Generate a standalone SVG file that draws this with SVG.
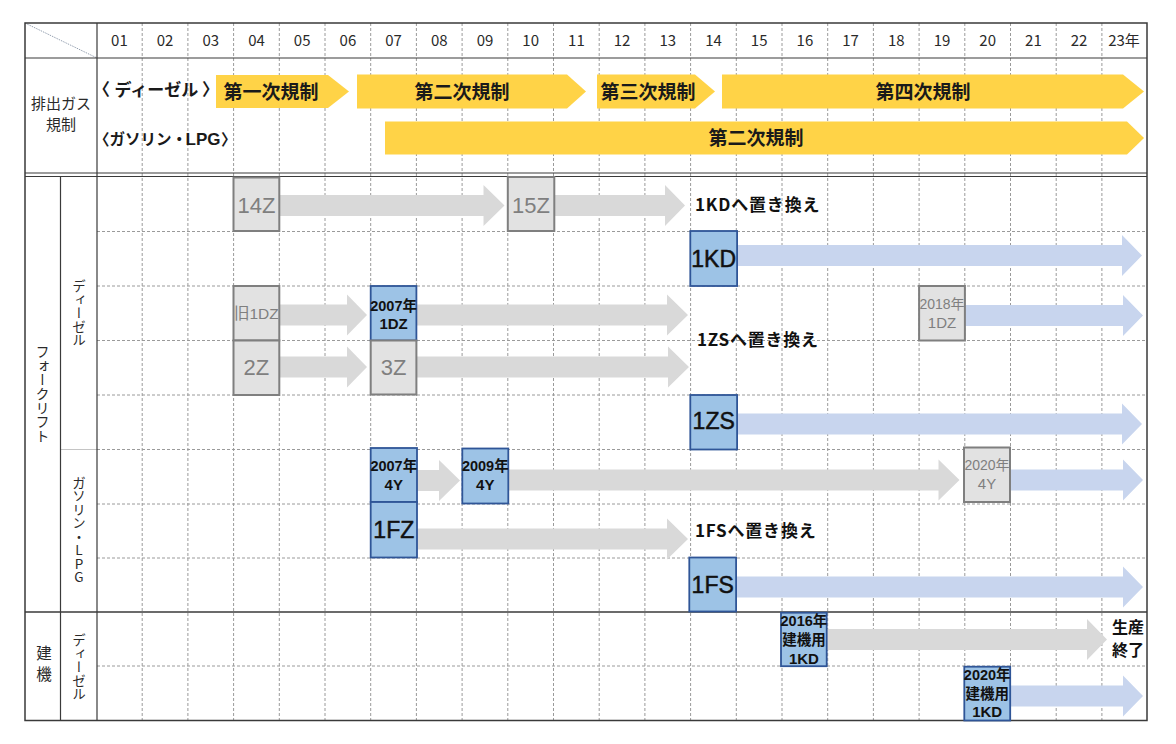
<svg xmlns="http://www.w3.org/2000/svg" width="1176" height="744" viewBox="0 0 1176 744">
<defs>
<style>
.bg{fill:#ffffff}
.vd{stroke:#9a9a9a;stroke-width:1;stroke-dasharray:3 2;fill:none}
.hd{stroke:#9a9a9a;stroke-width:1;stroke-dasharray:3 2;fill:none}
.solid{stroke:#3a3a3a;stroke-width:1.5;fill:none}
.thin{stroke:#3a3a3a;stroke-width:1.2;fill:none}
.yr{font-family:"Noto Sans CJK JP","Noto Sans",sans-serif;font-size:15px;fill:#2a2a2a;text-anchor:middle}
.lab{font-family:"Noto Sans CJK JP",sans-serif;font-size:15px;fill:#2a2a2a;text-anchor:middle}
.vt{font-family:"Noto Sans CJK JP",sans-serif;font-size:14px;fill:#2a2a2a;text-anchor:middle;writing-mode:vertical-rl;text-orientation:upright}
.yel{fill:#FFD347}
.ytx{font-family:"Noto Sans CJK JP",sans-serif;font-size:19px;font-weight:bold;fill:#1a1a1a;text-anchor:middle}
.cat{font-family:"Noto Sans CJK JP",sans-serif;font-size:17px;font-weight:bold;fill:#1a1a1a}
.lat{font-family:"Liberation Sans",Arial,sans-serif;font-size:17px;font-weight:bold;fill:#1a1a1a}
.ga{fill:#D9D9D9}
.ba{fill:#C8D5EE}
.gbox{fill:#E2E2E2;stroke:#7F7F7F;stroke-width:2}
.bbox{fill:#9DC3E6;stroke:#2F5597;stroke-width:1.8}
.gbig{font-family:"Liberation Sans",Arial,sans-serif;font-size:22px;fill:#7F7F7F;text-anchor:middle}
.bbig{font-family:"Liberation Sans",Arial,sans-serif;font-size:23px;fill:#111111;stroke:#111111;stroke-width:0.5;text-anchor:middle}
.gsm{font-family:"Liberation Sans","Noto Sans CJK JP",sans-serif;font-size:14px;fill:#7F7F7F;text-anchor:middle}
.bsm{font-family:"Liberation Sans","Noto Sans CJK JP",sans-serif;font-size:14.5px;font-weight:bold;fill:#111111;text-anchor:middle}
.note{font-family:"Noto Sans CJK JP",sans-serif;font-size:17px;font-weight:bold;fill:#111111;letter-spacing:0.8px}
.end{font-family:"Noto Sans CJK JP",sans-serif;font-size:16px;font-weight:bold;fill:#111111}
</style>
</defs>
<rect class="bg" x="0" y="0" width="1176" height="744"/>

<g id="grid">
<g class="vd">
<line x1="142.2" y1="23" x2="142.2" y2="720.5"/>
<line x1="187.9" y1="23" x2="187.9" y2="720.5"/>
<line x1="233.6" y1="23" x2="233.6" y2="720.5"/>
<line x1="279.3" y1="23" x2="279.3" y2="720.5"/>
<line x1="325" y1="23" x2="325" y2="720.5"/>
<line x1="370.7" y1="23" x2="370.7" y2="720.5"/>
<line x1="416.4" y1="23" x2="416.4" y2="720.5"/>
<line x1="462.1" y1="23" x2="462.1" y2="720.5"/>
<line x1="507.8" y1="23" x2="507.8" y2="720.5"/>
<line x1="553.5" y1="23" x2="553.5" y2="720.5"/>
<line x1="599.2" y1="23" x2="599.2" y2="720.5"/>
<line x1="644.9" y1="23" x2="644.9" y2="720.5"/>
<line x1="690.6" y1="23" x2="690.6" y2="720.5"/>
<line x1="736.3" y1="23" x2="736.3" y2="720.5"/>
<line x1="782" y1="23" x2="782" y2="720.5"/>
<line x1="827.7" y1="23" x2="827.7" y2="720.5"/>
<line x1="873.4" y1="23" x2="873.4" y2="720.5"/>
<line x1="919.1" y1="23" x2="919.1" y2="720.5"/>
<line x1="964.8" y1="23" x2="964.8" y2="720.5"/>
<line x1="1010.5" y1="23" x2="1010.5" y2="720.5"/>
<line x1="1056.2" y1="23" x2="1056.2" y2="720.5"/>
<line x1="1101.9" y1="23" x2="1101.9" y2="720.5"/>
</g>
<g class="hd">
<line x1="97" y1="231.5" x2="1147" y2="231.5"/>
<line x1="97" y1="286" x2="1147" y2="286"/>
<line x1="97" y1="340.5" x2="1147" y2="340.5"/>
<line x1="97" y1="395" x2="1147" y2="395"/>
<line x1="97" y1="449.5" x2="1147" y2="449.5"/>
<line x1="97" y1="504" x2="1147" y2="504"/>
<line x1="97" y1="558" x2="1147" y2="558"/>
<line x1="97" y1="666" x2="1147" y2="666"/>
</g>
<line x1="60" y1="449.5" x2="97" y2="449.5" stroke="#c4c4c4" stroke-width="1"/>
<line x1="25" y1="23" x2="97" y2="58" stroke="#8a96a8" stroke-width="0.9" stroke-dasharray="1.5 1"/>
<rect class="solid" x="25" y="23" width="1122" height="697.5"/>
<line class="thin" x1="25" y1="58" x2="1147" y2="58"/>
<line class="thin" x1="25" y1="173" x2="1147" y2="173"/>
<line class="thin" x1="25" y1="176.5" x2="1147" y2="176.5"/>
<line class="solid" x1="25" y1="612" x2="1147" y2="612"/>
<line class="thin" x1="97" y1="23" x2="97" y2="720.5"/>
<line class="thin" x1="60.5" y1="176.5" x2="60.5" y2="720.5"/>
</g>

<g id="year-header">
<text class="yr" x="119.4" y="46">01</text>
<text class="yr" x="165.1" y="46">02</text>
<text class="yr" x="210.8" y="46">03</text>
<text class="yr" x="256.5" y="46">04</text>
<text class="yr" x="302.2" y="46">05</text>
<text class="yr" x="347.9" y="46">06</text>
<text class="yr" x="393.6" y="46">07</text>
<text class="yr" x="439.3" y="46">08</text>
<text class="yr" x="485" y="46">09</text>
<text class="yr" x="530.7" y="46">10</text>
<text class="yr" x="576.4" y="46">11</text>
<text class="yr" x="622.1" y="46">12</text>
<text class="yr" x="667.8" y="46">13</text>
<text class="yr" x="713.5" y="46">14</text>
<text class="yr" x="759.2" y="46">15</text>
<text class="yr" x="804.9" y="46">16</text>
<text class="yr" x="850.6" y="46">17</text>
<text class="yr" x="896.3" y="46">18</text>
<text class="yr" x="942" y="46">19</text>
<text class="yr" x="987.7" y="46">20</text>
<text class="yr" x="1033.4" y="46">21</text>
<text class="yr" x="1079.1" y="46">22</text>
<text class="yr" x="1124" y="46">23年</text>
</g>

<g id="row-labels">
<text class="lab" x="61" y="108.5">排出ガス</text>
<text class="lab" x="61" y="129.5">規制</text>
<text class="vt" x="42.5" y="394">フォークリフト</text>
<text class="vt" x="79" y="313" style="font-size:13.5px">ディーゼル</text>
<text class="vt" x="79" y="530" style="font-size:13.5px">ガソリン・LPG</text>
<text class="vt" x="44" y="666" style="font-size:15.5px;letter-spacing:5px">建機</text>
<text class="vt" x="79" y="667" style="font-size:13.5px">ディーゼル</text>
</g>

<g id="regulations">
<text class="cat" y="96"><tspan x="93">〈</tspan><tspan x="114.5">ディーゼル</tspan><tspan x="202">〉</tspan></text>
<text class="cat" y="144.5" style="font-size:15.5px"><tspan x="94">〈</tspan><tspan x="109.5">ガソリン・</tspan><tspan class="lat" x="185.5">LPG</tspan><tspan x="221">〉</tspan></text>
<g id="reg-d1"><path class="yel" d="M216,75 H328 L349,91.5 L328,108 H216 Z"/><text class="ytx" x="271" y="98.5">第一次規制</text></g>
<g id="reg-d2"><path class="yel" d="M357,74.5 H567 L586,91.5 L567,108.5 H357 Z"/><text class="ytx" x="462" y="98.5">第二次規制</text></g>
<g id="reg-d3"><path class="yel" d="M597,74.5 H695 L715,91.5 L695,108.5 H597 Z"/><text class="ytx" x="648" y="98.5">第三次規制</text></g>
<g id="reg-d4"><path class="yel" d="M722,74.5 H1123 L1144,91.5 L1123,108.5 H722 Z"/><text class="ytx" x="923" y="98.5">第四次規制</text></g>
<g id="reg-g2"><path class="yel" d="M385,121.5 H1127 L1144,138 L1127,154.5 H385 Z"/><text class="ytx" x="756" y="145">第二次規制</text></g>
</g>

<g id="connectors">
<path class="ga" d="M279.3,195 H483.5 V185 L504.5,205.5 L483.5,226 V216 H279.3 Z"/>
<path class="ga" d="M553,195 H665 V185 L685,205.5 L665,226 V216 H553 Z"/>
<path class="ga" d="M279.3,304.5 H347 V294.5 L367,315 L347,335.5 V325.5 H279.3 Z"/>
<path class="ga" d="M416.3,304.5 H667 V294.5 L688,315 L667,335.5 V325.5 H416.3 Z"/>
<path class="ga" d="M279.3,356.5 H347 V346.5 L367,367 L347,387.5 V377.5 H279.3 Z"/>
<path class="ga" d="M416.3,356.5 H668 V346.5 L689,367 L668,387.5 V377.5 H416.3 Z"/>
<path class="ga" d="M417,470 H439 V460 L460,480.5 L439,501 V491 H417 Z"/>
<path class="ga" d="M508.3,469.5 H938.5 V459.5 L959.5,480 L938.5,500.5 V490.5 H508.3 Z"/>
<path class="ga" d="M417,528.5 H667 V518.5 L688,539 L667,559.5 V549.5 H417 Z"/>
<path class="ga" d="M826.7,629 H1087 V619 L1107,639.5 L1087,660 V650 H826.7 Z"/>
<path class="ba" d="M737,245 H1122 V235 L1142,255.5 L1122,276 V266 H737 Z"/>
<path class="ba" d="M965,305 H1123 V295 L1143,315.5 L1123,336 V326 H965 Z"/>
<path class="ba" d="M737,413.5 H1122 V403.5 L1142,424 L1122,444.5 V434.5 H737 Z"/>
<path class="ba" d="M1010,469.5 H1123 V459.5 L1143,480 L1123,500.5 V490.5 H1010 Z"/>
<path class="ba" d="M736,576.5 H1123 V566.5 L1143,587 L1123,607.5 V597.5 H736 Z"/>
<path class="ba" d="M1010,685.5 H1123 V675.5 L1143,696 L1123,716.5 V706.5 H1010 Z"/>
</g>

<g id="node-14Z"><rect class="gbox" x="233.5" y="177.5" width="45.8" height="53.5"/><text class="gbig" x="256.4" y="212.5">14Z</text></g>
<g id="node-15Z"><rect class="gbox" x="507.8" y="177" width="46.5" height="54"/><text class="gbig" x="531" y="212.5">15Z</text></g>
<g id="note-1KD"><text class="note" x="695" y="211">1KDへ置き換え</text></g>
<g id="node-1KD"><rect class="bbox" x="690.3" y="231" width="46.8" height="55"/><text class="bbig" x="713.7" y="266.5">1KD</text></g>
<g id="node-old1DZ"><rect class="gbox" x="233.5" y="286" width="45.8" height="54.5"/><text class="gsm" x="256.4" y="318.5" style="font-size:15.5px">旧1DZ</text></g>
<g id="node-2007-1DZ"><rect class="bbox" x="370.7" y="286" width="45.7" height="54.5"/><text class="bsm" x="393.6" y="310.5">2007年</text><text class="bsm" x="393.6" y="328.5" style="font-size:15px">1DZ</text></g>
<g id="node-2018-1DZ"><rect class="gbox" x="919.1" y="286" width="45.8" height="54.5"/><text class="gsm" x="942" y="309">2018年</text><text class="gsm" x="942" y="328" style="font-size:15px">1DZ</text></g>
<g id="node-2Z"><rect class="gbox" x="233.5" y="340.5" width="45.8" height="54.5"/><text class="gbig" x="256.4" y="375">2Z</text></g>
<g id="node-3Z"><rect class="gbox" x="370.7" y="340.5" width="45.7" height="54"/><text class="gbig" x="393.6" y="375">3Z</text></g>
<g id="note-1ZS"><text class="note" x="697" y="345.5">1ZSへ置き換え</text></g>
<g id="node-1ZS"><rect class="bbox" x="690.3" y="395" width="46.8" height="54.5"/><text class="bbig" x="713.7" y="429">1ZS</text></g>
<g id="node-2007-4Y"><rect class="bbox" x="370.7" y="448" width="46.3" height="54"/><text class="bsm" x="393.8" y="471">2007年</text><text class="bsm" x="393.8" y="489.5" style="font-size:15px">4Y</text></g>
<g id="node-2009-4Y"><rect class="bbox" x="462.3" y="448.5" width="46" height="55"/><text class="bsm" x="485.3" y="471">2009年</text><text class="bsm" x="485.3" y="489.5" style="font-size:15px">4Y</text></g>
<g id="node-2020-4Y"><rect class="gbox" x="964" y="447.5" width="46" height="54.5"/><text class="gsm" x="987" y="470">2020年</text><text class="gsm" x="987" y="489" style="font-size:15px">4Y</text></g>
<g id="node-1FZ"><rect class="bbox" x="370.7" y="502" width="46.3" height="55.5"/><text class="bbig" x="393.8" y="537.5">1FZ</text></g>
<g id="note-1FS"><text class="note" x="695" y="537">1FSへ置き換え</text></g>
<g id="node-1FS"><rect class="bbox" x="689.3" y="557.5" width="46.8" height="54"/><text class="bbig" x="712.7" y="592.5">1FS</text></g>
<g id="node-2016-1KD"><rect class="bbox" x="781" y="612.7" width="45.7" height="53.5"/><text class="bsm" x="803.9" y="626">2016年</text><text class="bsm" x="803.9" y="644.5">建機用</text><text class="bsm" x="803.9" y="663.5" style="font-size:15px">1KD</text></g>
<g id="note-end"><text class="end" x="1112" y="632.5">生産</text><text class="end" x="1112" y="655.5">終了</text></g>
<g id="node-2020-1KD"><rect class="bbox" x="964.3" y="666.7" width="45.9" height="53.8"/><text class="bsm" x="987.2" y="680">2020年</text><text class="bsm" x="987.2" y="698.5">建機用</text><text class="bsm" x="987.2" y="717" style="font-size:15px">1KD</text></g>
</svg>
